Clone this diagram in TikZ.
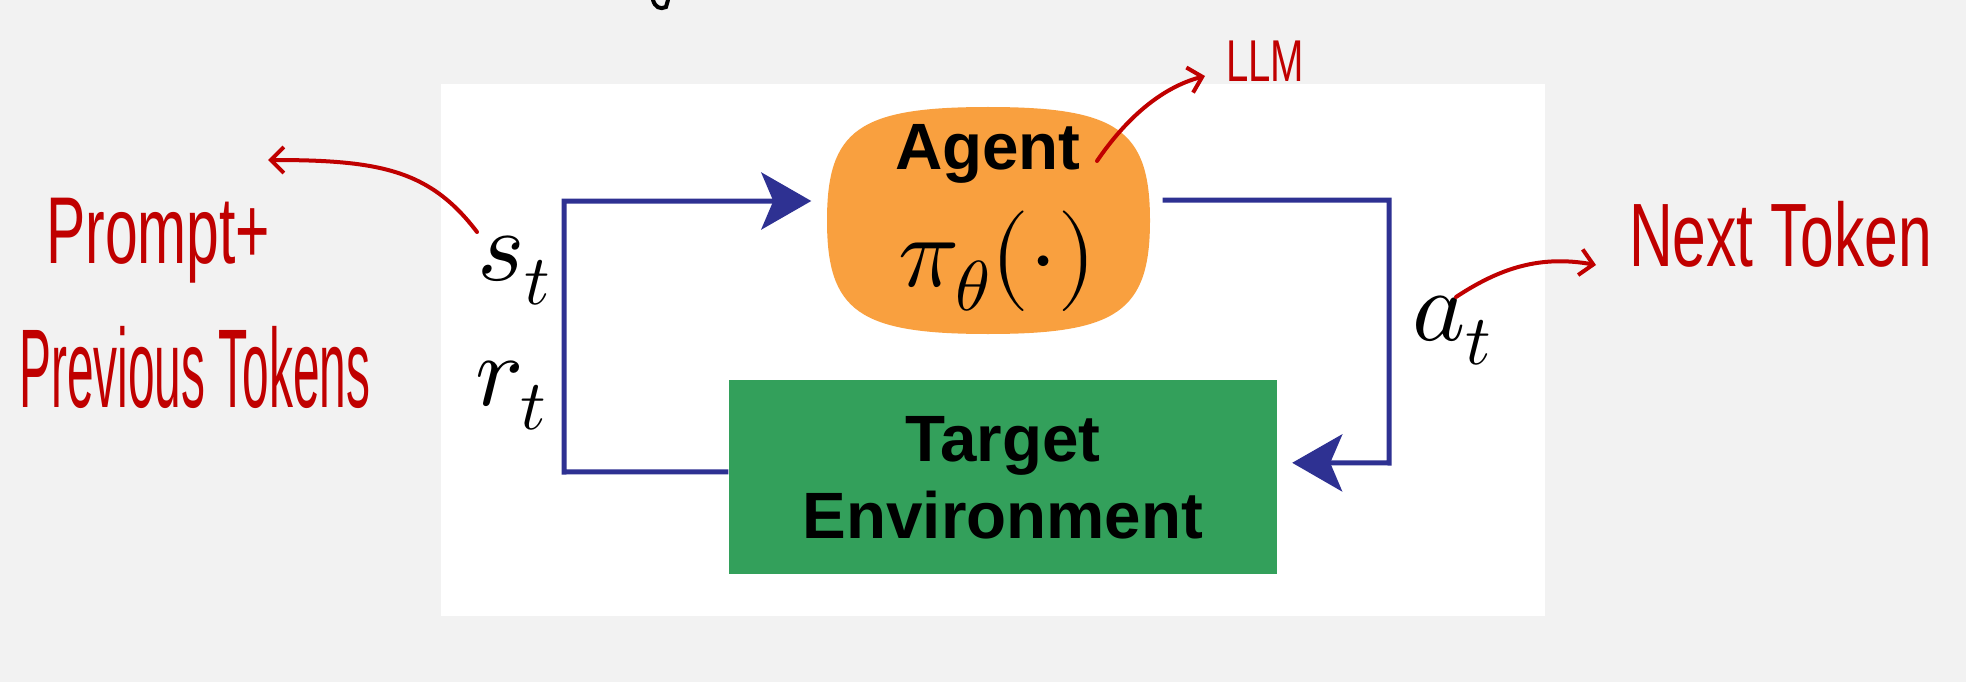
\documentclass[tikz,border=0pt]{standalone}
\usepackage{graphicx}
\usepackage{fontspec}
\usepackage{unicode-math}
\setmathfont{Latin Modern Math}
\newfontfamily\labelfont{Liberation Sans}
\newfontfamily\handfont{Liberation Sans}
\usetikzlibrary{arrows.meta,calc}
\definecolor{bgcol}{HTML}{F2F2F2}
\definecolor{blueline}{HTML}{2E3192}
\definecolor{agentfill}{HTML}{F9A03F}
\definecolor{envfill}{HTML}{33A05B}
\definecolor{redink}{HTML}{C00000}
\begin{document}
\begin{tikzpicture}[x=1pt,y=-1pt,
  bluewire/.style={draw=blueline, line width=5pt, -{Stealth[length=50pt,width=57pt,inset=12pt]}},
  redwire/.style={draw=redink, line width=4pt, line cap=round, line join=round,
    -{Straight Barb[length=13pt,width=26pt,line width=4pt]}},
  mathlab/.style={inner sep=0pt, anchor=base west, font=\fontsize{101}{101}\selectfont},
  boxtext/.style={inner sep=0pt, anchor=base, font=\labelfont\bfseries\fontsize{65.5}{65.5}\selectfont},
  hand/.style={inner sep=0pt, anchor=base west, text=redink},
  areabox/.style={inner sep=0pt, draw=none}]
\useasboundingbox (0,0) rectangle (1966,682);
\fill[bgcol] (0,0) rectangle (1966,682);
\fill[white] (441,84) rectangle (1545,616);
% top stroke fragment
\draw[line width=4pt, black, line cap=round] (653,0) .. controls (655,7) and (660,10) .. (666,7) -- (668,0);
% agent blob
\node[areabox, minimum width=323pt, minimum height=226pt] (agent) at (988,220.5) {};
\fill[agentfill] (1150,220.5) .. controls (1150,129.7) and (1117.2,107) .. (988,107)
  .. controls (858.8,107) and (827,129.7) .. (827,220.5)
  .. controls (827,311.3) and (858.8,334) .. (988,334)
  .. controls (1117.2,334) and (1150,311.3) .. (1150,220.5) -- cycle;
% environment box
\node[areabox, fill=envfill, minimum width=548.5pt, minimum height=193.6pt] (env) at (1002.75,476.8) {};
% labels
\node[boxtext] (agentlabel) at (988,170) {Agent};
\node[mathlab] (policy) at (898,286) {$\pi_\theta(\cdot)$};
\node[boxtext] (targetlabel) at (1003,461) {Target};
\node[boxtext] (envlabel) at (1003,538) {Environment};
\node[mathlab] (st) at (477,280) {$s_t$};
\node[mathlab] (rt) at (475,405) {$r_t$};
\node[mathlab] (atlab) at (1412,340) {$a_t$};
% blue loop
\coordinate (agentIn) at ($(agent.west)+(-15,-19.5)$);
\coordinate (agentOut) at ($(agent.east)+(13,-20.5)$);
\coordinate (envIn) at ($(env.east)+(15,-14)$);
\coordinate (lb) at (564,472);
\coordinate (lt) at (564,201);
\coordinate (rtc) at (1389,200);
\coordinate (rbc) at (1389,463);
\draw[bluewire] ([yshift=5pt]env.west) -- (lb) -- (lt) -- (agentIn);
\draw[bluewire] (agentOut) -- (rtc) -- (rbc) -- (envIn);
% handwritten notes
\node[hand] (prompt) at (46,263) {\resizebox{224pt}{\height}{\handfont\fontsize{95}{95}\selectfont Prompt+}};
\node[hand] (previous) at (19,407) {\resizebox{351pt}{\height}{\handfont\fontsize{112}{112}\selectfont Previous Tokens}};
\node[hand] (nexttok) at (1629,266) {\resizebox{303pt}{\height}{\handfont\fontsize{90}{90}\selectfont Next Token}};
\node[hand] (llm) at (1226,82) {\resizebox{78pt}{\height}{\handfont\fontsize{59}{59}\selectfont LLM}};
% red arrows
\coordinate (sFrom) at (477,232);
\coordinate (sTo) at (268,160);
\coordinate (aFrom) at (1097,161);
\coordinate (aTo) at (1205,76);
\coordinate (tFrom) at (1456,297);
\coordinate (tTo) at (1596,265);
\draw[redwire] (sFrom) .. controls (430,170) and (380,160) .. (sTo);
\draw[redwire] (aFrom) .. controls (1125,120) and (1160,88) .. (aTo);
\draw[redwire] (tFrom) .. controls (1500,268) and (1540,255) .. (tTo);
\end{tikzpicture}
\end{document}
